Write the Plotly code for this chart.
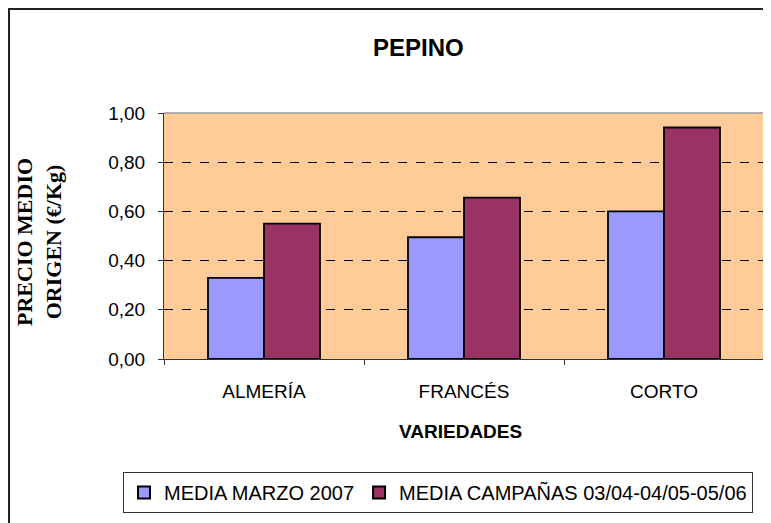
import plotly.graph_objects as go

categories = ["ALMERÍA", "FRANCÉS", "CORTO"]
media_marzo_2007 = [0.33, 0.495, 0.60]
media_campanas = [0.55, 0.656, 0.941]
series_names = ["MEDIA MARZO 2007", "MEDIA CAMPAÑAS 03/04-04/05-05/06"]
y_ticks = [0.0, 0.2, 0.4, 0.6, 0.8, 1.0]

OFF = 8  # page body margin
W, H = 771 - OFF, 523 - OFF
PL, PR, PT, PB = 164, 764, 113, 359  # plot area in screen px
L, R, T, B = PL - OFF, W - (PR - OFF), PT - OFF, H - (PB - OFF)
PW = PR - PL
PH = PB - PT


def px(x):
    return (x - PL) / PW


def py(y):
    return (PB - y) / PH


FONT = "Liberation Sans, Arial, sans-serif"
SERIF = "Liberation Serif, Times New Roman, serif"

fig = go.Figure()
fig.add_trace(go.Bar(x=categories, y=media_marzo_2007, name=series_names[0],
                     marker=dict(color="#9999FF", line=dict(color="black", width=1.8))))
fig.add_trace(go.Bar(x=categories, y=media_campanas, name=series_names[1],
                     marker=dict(color="#993366", line=dict(color="black", width=1.8))))

fig.update_layout(
    width=W, height=H,
    margin=dict(l=L, r=R, t=T, b=B, pad=0),
    paper_bgcolor="white",
    plot_bgcolor="#FFCC99",
    barmode="group", bargap=0.44, bargroupgap=0,
    separators=",.",
    font=dict(family=FONT, color="black"),
    showlegend=True,
    legend=dict(orientation="h", x=px(123), y=py(472), xanchor="left", yanchor="top",
                bordercolor="#333", borderwidth=1, font=dict(size=20, family=FONT),
                itemsizing="constant", traceorder="normal", bgcolor="white",
                tracegroupgap=0),
)

fig.update_xaxes(range=[-0.5, 2.5], showline=True, linecolor="#333", linewidth=1,
                 ticks="outside", tickson="boundaries", ticklen=5, tickcolor="#333",
                 tickfont=dict(size=19), showgrid=False, ticklabelstandoff=15)
fig.update_yaxes(range=[0, 1], tickvals=y_ticks, tickformat=".2f",
                 showline=True, linecolor="#333", linewidth=1,
                 ticks="outside", ticklen=5, tickcolor="#333",
                 tickfont=dict(size=19), showgrid=True, gridcolor="black",
                 griddash="dash", gridwidth=1, zeroline=False, ticklabelstandoff=9)

# plot area border (top/right)
fig.add_shape(type="line", xref="paper", yref="paper", x0=0, x1=1, y0=1, y1=1,
              line=dict(color="#999", width=1.5), layer="above")
fig.add_shape(type="line", xref="paper", yref="paper", x0=1, x1=1, y0=0, y1=1,
              line=dict(color="#999", width=1.5), layer="above")
# outer chart border (left and top visible)
fig.add_shape(type="rect", xref="paper", yref="paper", x0=px(9), x1=px(790),
              y0=py(540), y1=py(9), line=dict(color="#222", width=2), layer="below")

fig.add_annotation(text="<b>PEPINO</b>", xref="paper", yref="paper", x=px(418), y=py(47),
                   showarrow=False, font=dict(size=24, family=FONT), xanchor="center", yanchor="middle")
fig.add_annotation(text="<b>VARIEDADES</b>", xref="paper", yref="paper", x=px(460), y=py(431),
                   showarrow=False, font=dict(size=19, family=FONT), xanchor="center", yanchor="middle")
fig.add_annotation(text="<b>PRECIO MEDIO<br>ORIGEN (€/Kg)</b>", xref="paper", yref="paper",
                   x=px(39), y=py(242), textangle=-90, showarrow=False,
                   font=dict(size=22, family=SERIF), xanchor="center", yanchor="middle")

fig.write_html("out.html")
